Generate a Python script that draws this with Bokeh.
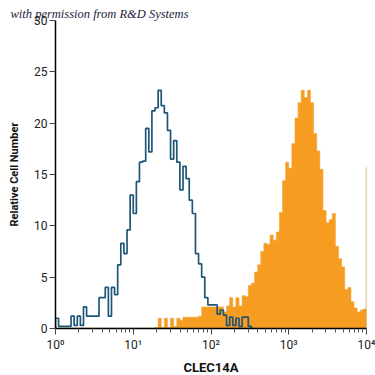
import numpy as np
from bokeh.plotting import figure
from bokeh.models import Range1d, FixedTicker, Title
from bokeh.embed import file_html
from bokeh.resources import INLINE

# ---- data ----
bin_width_log = 0.04

# isotype control (blue outline), bins start at log10 = 0.0
control_start_log = 0.0
control_counts = [1.0, 0.2, 0.2, 0.2, 0.2, 1.2, 0.3, 1.2, 0.3, 2.1,
                  1.2, 1.2, 1.2, 1.2, 3.0, 3.0, 4.0, 1.2, 4.0, 3.3,
                  6.2, 8.3, 7.3, 9.6, 13.0, 11.2, 14.3, 16.2, 16.3, 19.5,
                  17.2, 21.2, 21.5, 23.2, 21.7, 21.0, 19.3, 16.5, 18.3, 16.2,
                  13.5, 15.8, 14.6, 12.5, 11.2, 7.3, 6.3, 5.0, 3.0, 2.3,
                  2.3, 2.3, 1.4, 1.8, 1.3, 0.3, 1.1, 0.3, 1.0, 0.2,
                  1.1, 1.1, 0.2]

# CLEC14A stained (orange filled), bins start at log10 = 1.28
stained_start_log = 1.28
stained_counts = [0.1, 1.0, 0.1, 1.0, 0.1, 1.0, 0.2, 1.0, 0.8, 1.1,
                  1.1, 1.1, 1.1, 1.1, 1.2, 2.1, 2.1, 2.1, 2.1, 2.1,
                  2.1, 2.1, 1.6, 2.2, 3.0, 2.1, 3.0, 2.2, 3.2, 3.1,
                  4.2, 4.4, 5.5, 6.2, 7.5, 8.3, 8.2, 9.1, 8.6, 9.4,
                  11.3, 14.4, 16.2, 15.6, 18.0, 20.5, 22.0, 23.2, 22.5, 23.2,
                  22.0, 19.0, 17.3, 15.5, 11.5, 10.3, 10.6, 11.2, 8.0, 6.8,
                  6.0, 3.8, 4.0, 2.6, 2.0, 1.6, 1.8, 1.9]
stained_last_channel = 15.7   # off-scale channel at 10^4

x_ticks = [1, 10, 100, 1000, 10000]
x_tick_labels = ["10⁰", "10¹", "10²", "10³", "10⁴"]
y_ticks = [0, 5, 10, 15, 20, 25, 30]


def step_outline(start_log, counts):
    edges = start_log + bin_width_log * np.arange(len(counts) + 1)
    xs, ys = [10 ** edges[0]], [0.0]
    for i, c in enumerate(counts):
        xs += [10 ** edges[i], 10 ** edges[i + 1]]
        ys += [c, c]
    xs.append(10 ** edges[-1])
    ys.append(0.0)
    return xs, ys


p = figure(x_axis_type="log", output_backend="svg", toolbar_location=None,
           frame_width=311, frame_height=308,
           min_border_left=55, min_border_top=20, min_border_right=9, min_border_bottom=47,
           x_range=Range1d(1, 10000), y_range=Range1d(0, 30))
p.outline_line_color = None
p.grid.visible = False
p.background_fill_color = "white"

# credit line as a title placed above the frame
p.title = Title(text="with permission from R&D Systems", align="left", offset=-45,
                standoff=0, text_font="Liberation Serif", text_font_style="italic",
                text_font_size="12.5px", text_color="#1c1c3c")

# stained fill
sx, sy = step_outline(stained_start_log, stained_counts)
p.patch(sx, sy, fill_color="#f69c20", line_color="#f2a435", line_width=0.6)
# tan baseline and off-scale channel
p.line([1, 10000], [0, 0], line_color="#b89a5e", line_width=1.5)
p.segment(x0=[10000], y0=[0], x1=[10000], y1=[stained_last_channel],
          line_color="#c9a96a", line_width=1.5)

# control outline
cx, cy = step_outline(control_start_log, control_counts)
p.line(cx, cy, line_color="#1f5677", line_width=1.7)

# axes
for ax in (p.xaxis[0], p.yaxis[0]):
    ax.axis_line_color = "black"
    ax.axis_line_width = 1.5
    ax.major_tick_line_color = "#444444"
    ax.major_label_text_font = "Roboto"
    ax.major_label_text_font_size = "12px"
    ax.major_label_text_color = "#222222"
    ax.axis_label_text_font = "Roboto"
    ax.axis_label_text_font_style = "bold"
    ax.axis_label_text_color = "#111111"

xa = p.xaxis[0]
xa.ticker = FixedTicker(ticks=x_ticks,
                        minor_ticks=[m * d for d in [1, 10, 100, 1000] for m in range(2, 10)])
xa.major_label_overrides = {t: l for t, l in zip(x_ticks, x_tick_labels)}
xa.major_tick_in = 0
xa.major_tick_out = 6
xa.minor_tick_in = 0
xa.minor_tick_out = 4
xa.minor_tick_line_color = "#555555"
xa.major_label_standoff = 3
xa.axis_label = "CLEC14A"
xa.axis_label_text_font_size = "13px"
xa.axis_label_standoff = 5

ya = p.yaxis[0]
ya.ticker = FixedTicker(ticks=y_ticks)
ya.major_tick_in = 0
ya.major_tick_out = 6
ya.minor_tick_line_color = None
ya.major_label_standoff = 2
ya.axis_label = "Relative Cell Number"
ya.axis_label_text_font_size = "11px"
ya.axis_label_standoff = 10

open("out.html", "w").write(file_html(p, INLINE))
